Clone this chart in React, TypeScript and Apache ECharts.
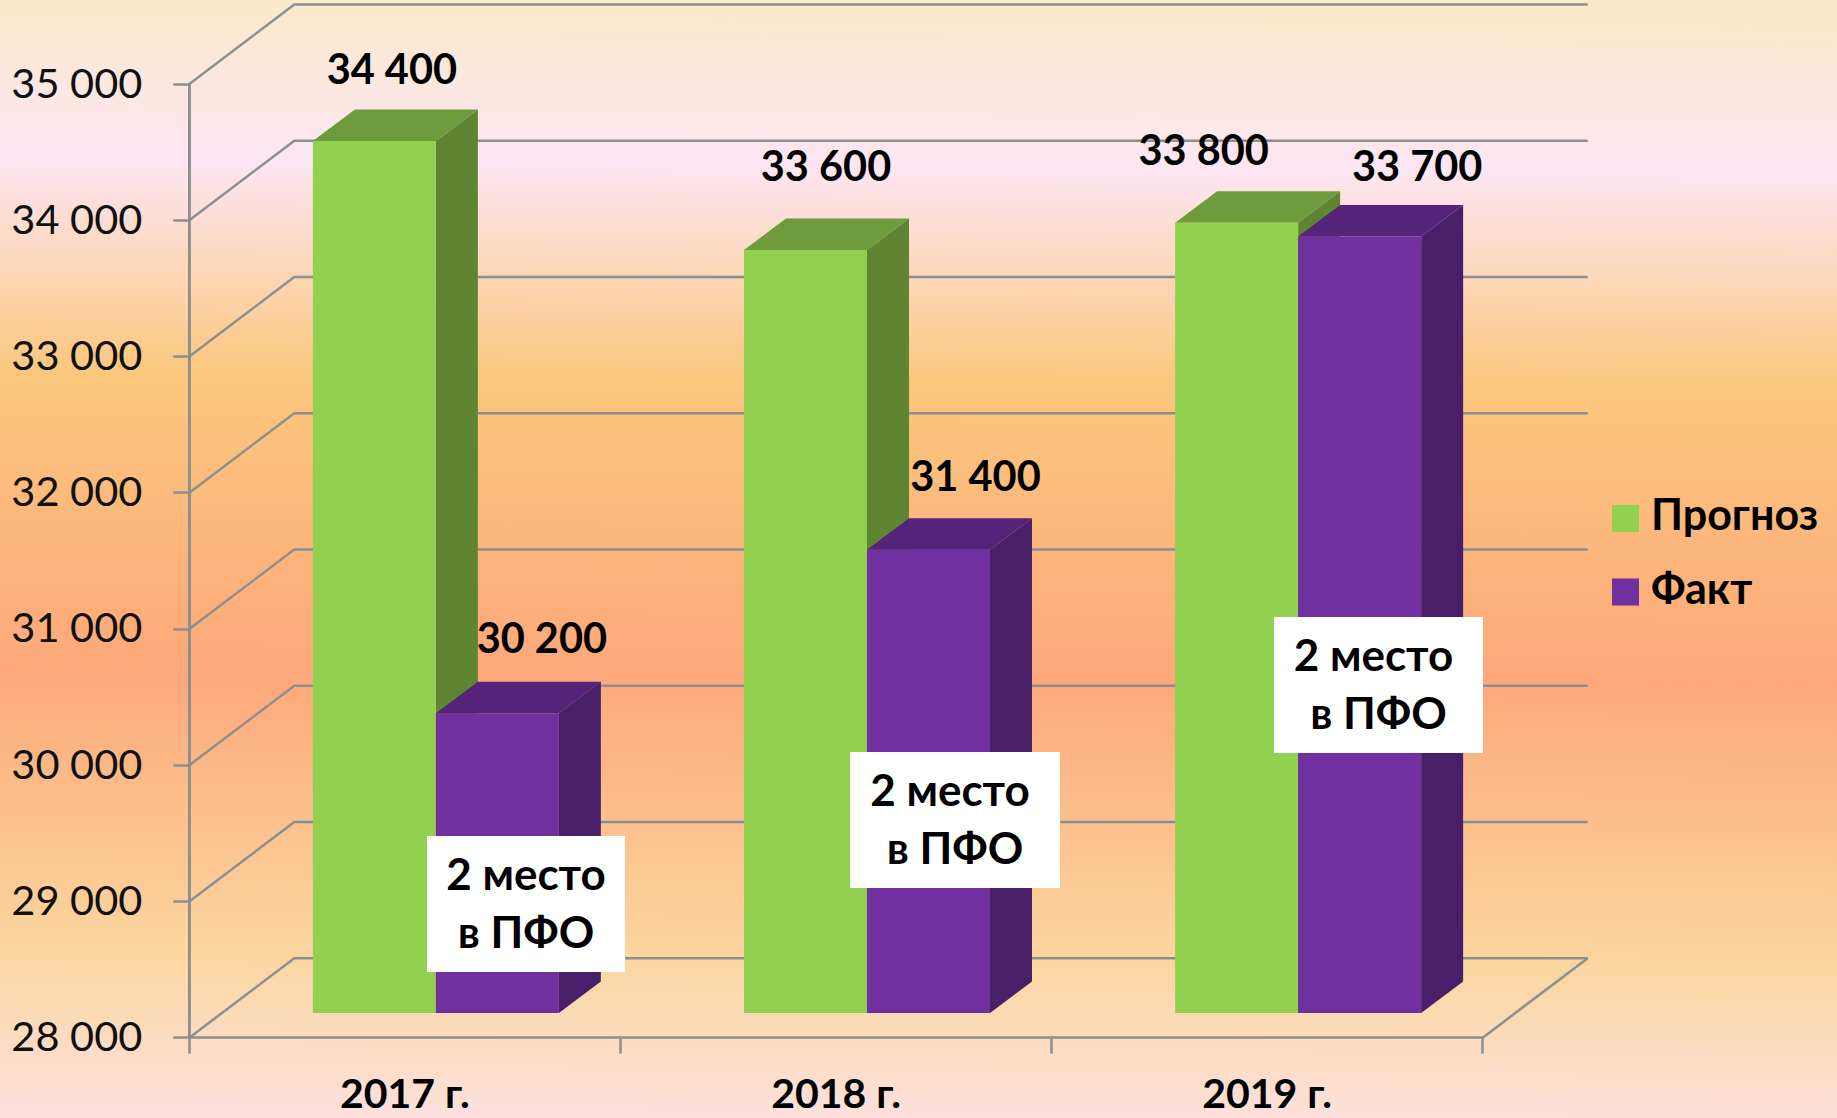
import React, { useEffect, useRef } from "react";
import * as echarts from "echarts";

const categories = ["2017 г.", "2018 г.", "2019 г."];
const forecast = [34400, 33600, 33800];
const actual = [30200, 31400, 33700];
const gridTicks = [28000, 29000, 30000, 31000, 32000, 33000, 34000, 35000];
const placeLines = ["2 место", "в ПФО"];

const W = 1837, H = 1118;
const AXIS_L = 189.3, AXIS_R = 1482.7, AXIS_T = 84, AXIS_B = 1037.7;
const WALL_DX = 105, WALL_DY = -79.5;
const BAR_DX = 31, BAR_DY = -24.7, BAR_W = 123, DEPTH_X = 42, DEPTH_Y = -31.5;
const FONT = "Lato, Carlito, 'Open Sans', sans-serif";
const GRID = "#8C8F8F";
const LINE_W = 2.5;

const fmt = (v: number) => String(v).replace(/(\d)(?=(\d{3})$)/, "$1 ");

const forecastLabelOffset = [[17.5, -73], [20.5, -85], [-33, -74]];
const actualLabelOffset = [[44.5, -76], [47, -75], [57.5, -71]];
const notes = [[427, 836, 198, 136, 0], [850, 752, 210, 136, -5], [1274, 617, 209, 136, -5]];

function barSeries(name: string, values: number[], side: number, front: string, top: string, right: string, off: number[][]) {
  return {
    type: "custom", name, z: 5, clip: false,
    itemStyle: { color: front },
    data: values.map((v, i) => [i, v]),
    encode: { x: 0, y: 1 },
    renderItem: (_: any, api: any) => {
      const i = api.value(0), v = api.value(1);
      const p = api.coord([i, v]);
      const b = api.coord([i, 28000]);
      const x0 = p[0] + BAR_DX + (side < 0 ? -BAR_W : 0);
      const x1 = x0 + BAR_W;
      const yT = p[1] + BAR_DY;
      const yB = b[1] + BAR_DY;
      return {
        type: "group",
        children: [
          { type: "polygon", shape: { points: [[x1, yT], [x1 + DEPTH_X, yT + DEPTH_Y], [x1 + DEPTH_X, yB + DEPTH_Y], [x1, yB]] }, style: { fill: right } },
          { type: "polygon", shape: { points: [[x0, yT], [x0 + DEPTH_X, yT + DEPTH_Y], [x1 + DEPTH_X, yT + DEPTH_Y], [x1, yT]] }, style: { fill: top } },
          { type: "rect", shape: { x: x0, y: yT, width: BAR_W, height: yB - yT }, style: { fill: front } },
          { type: "text", z2: 20, style: { text: fmt(v), x: (x0 + x1) / 2 + off[i][0], y: yT + off[i][1], align: "center", verticalAlign: "middle", fill: "#000", font: `bold 41.5px ${FONT}` } },
        ],
      };
    },
  };
}

export default function App() {
  const ref = useRef<HTMLDivElement>(null);
  useEffect(() => {
    document.body.style.margin = "0";
    const chart = echarts.init(ref.current!, null, { renderer: "svg" });
    chart.setOption({
      animation: false,
      backgroundColor: {
        type: "linear", x: 0.013, y: 0, x2: 0, y2: 1,
        colorStops: [
          { offset: 0, color: "#FBE9CC" },
          { offset: 0.143, color: "#FDE6F3" },
          { offset: 0.335, color: "#FBC77D" },
          { offset: 0.6, color: "#FDA87A" },
          { offset: 0.85, color: "#FBD69F" },
          { offset: 1, color: "#FDE1DF" },
        ],
      },
      grid: { left: AXIS_L, top: AXIS_T, width: AXIS_R - AXIS_L, height: AXIS_B - AXIS_T },
      legend: {
        data: ["Прогноз", "Факт"], orient: "vertical", left: 1607, top: 487, icon: "rect",
        itemWidth: 27, itemHeight: 27, itemGap: 20.5,
        formatter: "{a|{name}}",
        textStyle: {
          color: "#000", fontFamily: FONT, fontWeight: "bold", fontSize: 43, padding: [0, 0, 0, 7],
          rich: { a: { color: "#000", fontFamily: FONT, fontWeight: "bold", fontSize: 43, lineHeight: 48, padding: [0, 0, 10, 0] } },
        },
        selectedMode: false,
      },
      xAxis: {
        type: "category", data: categories,
        axisLine: { show: true, lineStyle: { color: GRID, width: LINE_W } },
        axisTick: { show: true, alignWithLabel: false, length: 16, lineStyle: { color: GRID, width: LINE_W } },
        axisLabel: { color: "#000", fontFamily: FONT, fontWeight: "bold", fontSize: 41, lineHeight: 36, margin: 37 },
        splitLine: { show: false },
      },
      yAxis: {
        type: "value", min: 28000, max: 35000, interval: 1000,
        axisLine: { show: true, onZero: false, lineStyle: { color: GRID, width: LINE_W } },
        axisTick: { show: true, length: 16, lineStyle: { color: GRID, width: LINE_W } },
        axisLabel: {
          color: "#111", margin: 47,
          formatter: (v: number) => `{a|${fmt(v)}}`,
          rich: { a: { color: "#111", fontFamily: FONT, fontSize: 41.5, padding: [0, 0, 5, 0] } },
        },
        splitLine: { show: false },
      },
      graphic: notes.flatMap((n) => [
        { type: "rect", z: 50, shape: { x: n[0], y: n[1], width: n[2], height: n[3] }, style: { fill: "#FFFFFF" } },
        { type: "text", z: 51, style: { text: placeLines[0], x: n[0] + n[2] / 2 + n[4], y: n[1] + 37, align: "center", verticalAlign: "middle", fill: "#000", font: `bold 44px ${FONT}` } },
        { type: "text", z: 51, style: { text: placeLines[1], x: n[0] + n[2] / 2, y: n[1] + 95, align: "center", verticalAlign: "middle", fill: "#000", font: `bold 44px ${FONT}` } },
      ]),
      series: [
        {
          type: "custom", name: "wall", z: 1, clip: false, silent: true,
          data: gridTicks.map((v) => [0, v]),
          encode: { x: 0, y: 1 },
          renderItem: (_: any, api: any) => {
            const y = api.coord([0, api.value(1)])[1];
            const style = { stroke: GRID, lineWidth: LINE_W, fill: "none" };
            const children: any[] = [
              { type: "polyline", shape: { points: [[AXIS_L, y], [AXIS_L + WALL_DX, y + WALL_DY], [AXIS_R + WALL_DX, y + WALL_DY]] }, style },
            ];
            if (api.value(1) === gridTicks[0]) {
              children.push({ type: "line", shape: { x1: AXIS_R, y1: y, x2: AXIS_R + WALL_DX, y2: y + WALL_DY }, style });
              children.push({ type: "line", shape: { x1: AXIS_L, y1: y, x2: AXIS_L, y2: AXIS_T }, style });
            }
            return { type: "group", children };
          },
        },
        barSeries("Прогноз", forecast, -1, "#92D050", "#6E9B3C", "#5F8432", forecastLabelOffset),
        barSeries("Факт", actual, 1, "#7030A0", "#55247A", "#481F68", actualLabelOffset),
      ],
    });
    return () => chart.dispose();
  }, []);
  return <div ref={ref} style={{ width: W, height: H }} />;
}
